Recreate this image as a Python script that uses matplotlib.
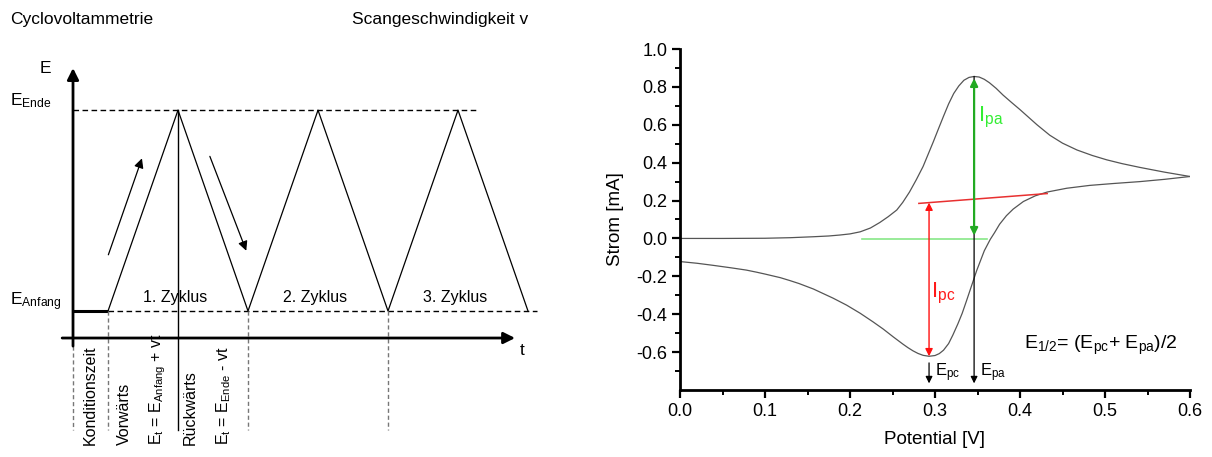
import matplotlib
matplotlib.use("Agg")
import matplotlib.pyplot as plt
import numpy as np

plt.rcParams['font.family'] = ['Liberation Sans', 'DejaVu Sans']
plt.rcParams['mathtext.default'] = 'regular'

# ---------------- Left panel data (schematic potential program) ----------------
E_ANFANG = 1.0
E_ENDE = 8.44
t_cond = [0.0, 1.0]                       # conditioning time
t_vertices = [1, 3, 5, 7, 9, 11, 13]      # triangle vertices
E_vertices = [E_ANFANG, E_ENDE, E_ANFANG, E_ENDE, E_ANFANG, E_ENDE, E_ANFANG]
cycle_labels = ["1. Zyklus", "2. Zyklus", "3. Zyklus"]
phase_labels = ["Konditionszeit", "Vorwärts", r"E$_t$ = E$_{Anfang}$ + vt",
                "Rückwärts", r"E$_t$ = E$_{Ende}$ - vt"]

# ---------------- Right panel data (cyclic voltammogram) ----------------
V_fwd = [0.000, 0.050, 0.100, 0.130, 0.157, 0.175, 0.188, 0.200, 0.212, 0.224,
         0.235, 0.245, 0.255, 0.262, 0.270, 0.278, 0.286, 0.292, 0.298, 0.304,
         0.310, 0.316, 0.322, 0.328, 0.334, 0.340, 0.346, 0.352, 0.358, 0.364,
         0.372, 0.380, 0.390, 0.400, 0.410, 0.420, 0.435, 0.450, 0.467, 0.485,
         0.502, 0.520, 0.541, 0.570, 0.600]
I_fwd = [0.000, 0.000, 0.001, 0.004, 0.009, 0.013, 0.018, 0.024, 0.035, 0.055,
         0.084, 0.115, 0.150, 0.190, 0.245, 0.310, 0.380, 0.445, 0.510, 0.578,
         0.645, 0.710, 0.765, 0.805, 0.835, 0.850, 0.855, 0.852, 0.840, 0.822,
         0.792, 0.757, 0.718, 0.680, 0.640, 0.600, 0.545, 0.503, 0.467, 0.438,
         0.415, 0.395, 0.375, 0.350, 0.327]
V_rev = [0.600, 0.570, 0.541, 0.510, 0.482, 0.455, 0.432, 0.418, 0.404, 0.392,
         0.384, 0.376, 0.370, 0.365, 0.358, 0.349, 0.343, 0.337, 0.332, 0.327,
         0.321, 0.316, 0.310, 0.305, 0.300, 0.293, 0.286, 0.280, 0.274, 0.268,
         0.262, 0.251, 0.239, 0.227, 0.212, 0.196, 0.180, 0.168, 0.157, 0.140,
         0.129, 0.118, 0.100, 0.090, 0.078, 0.060, 0.039, 0.020, 0.000]
I_rev = [0.327, 0.312, 0.300, 0.290, 0.280, 0.265, 0.245, 0.225, 0.195, 0.155,
         0.120, 0.075, 0.030, -0.005, -0.065, -0.170, -0.250, -0.330, -0.395, -0.450,
         -0.510, -0.555, -0.590, -0.608, -0.618, -0.622, -0.617, -0.607, -0.593, -0.576,
         -0.557, -0.520, -0.478, -0.440, -0.395, -0.352, -0.315, -0.290, -0.267, -0.238,
         -0.222, -0.207, -0.188, -0.178, -0.167, -0.155, -0.142, -0.131, -0.122]
baseline_pa = ([0.214, 0.361], [-0.005, -0.005])   # green baseline for I_pa
baseline_pc = ([0.281, 0.432], [0.185, 0.237])     # red baseline for I_pc

fig = plt.figure(figsize=(12.12, 4.57), dpi=100)

# ================= Left schematic =================
axL = fig.add_axes([0, 0, 560 / 1212, 1])
axL.set_xlim(-2.086, 13.914)
axL.set_ylim(-4.407, 12.52)
axL.axis('off')

E_bottom = -3.41
# axes arrows
axL.annotate('', xy=(0, 10.0), xytext=(0, -0.3),
             arrowprops=dict(arrowstyle='-|>', color='black', lw=2, mutation_scale=17,
                             shrinkA=0, shrinkB=0))
axL.annotate('', xy=(12.63, 0), xytext=(-0.31, 0),
             arrowprops=dict(arrowstyle='-|>', color='black', lw=2, mutation_scale=17,
                             shrinkA=0, shrinkB=0))
axL.plot([0, 0], [-0.3, E_bottom], color='#777777', lw=1, ls=(0, (3, 2)))
axL.text(-0.8, 10.0, 'E', fontsize=12.5, ha='center', va='center')
axL.text(12.83, -0.45, 't', fontsize=12.5, ha='center', va='center')
axL.text(-1.8, 8.8, r'E$_{Ende}$', fontsize=12.5, ha='left', va='center')
axL.text(-1.8, 1.33, r'E$_{Anfang}$', fontsize=12.5, ha='left', va='center')

# reference levels
axL.plot([0, 11.57], [E_ENDE, E_ENDE], color='black', lw=1, ls=(0, (4, 2.5)))
axL.plot([t_cond[1], 13.26], [E_ANFANG, E_ANFANG], color='black', lw=1, ls=(0, (4, 2.5)))
axL.plot(t_cond, [E_ANFANG, E_ANFANG], color='black', lw=2.2, solid_capstyle='butt')

# triangle waveform
axL.plot(t_vertices, E_vertices, color='black', lw=0.9)

# vertical marker lines
axL.plot([t_vertices[1], t_vertices[1]], [E_ENDE, E_bottom], color='black', lw=1)
for tv in (t_vertices[0], t_vertices[2], t_vertices[4]):
    axL.plot([tv, tv], [E_ANFANG, E_bottom], color='#777777', lw=1, ls=(0, (3, 2)))

# direction arrows
def ramp_point(t0, E0, t1, E1, f, dt):
    return (t0 + f * (t1 - t0) + dt, E0 + f * (E1 - E0))

p0 = ramp_point(t_vertices[0], E_vertices[0], t_vertices[1], E_vertices[1], 0.28, -0.55)
p1 = ramp_point(t_vertices[0], E_vertices[0], t_vertices[1], E_vertices[1], 0.76, -0.55)
axL.annotate('', xy=p1, xytext=p0,
             arrowprops=dict(arrowstyle='-|>', color='black', lw=0.9, mutation_scale=14,
                             shrinkA=0, shrinkB=0))
q0 = ramp_point(t_vertices[1], E_vertices[1], t_vertices[2], E_vertices[2], 0.23, 0.45)
q1 = ramp_point(t_vertices[1], E_vertices[1], t_vertices[2], E_vertices[2], 0.70, 0.55)
axL.annotate('', xy=q1, xytext=q0,
             arrowprops=dict(arrowstyle='-|>', color='black', lw=0.9, mutation_scale=14,
                             shrinkA=0, shrinkB=0))

for lab, tp in zip(cycle_labels, t_vertices[1::2]):
    axL.text(tp - 0.08, 1.5, lab, fontsize=11.5, ha='center', va='center')

phase_t = [0.49, 1.46, 2.43, 3.34, 4.31]
for lab, tp in zip(phase_labels, phase_t):
    axL.text(tp, -3.98, lab, fontsize=11.5, rotation=90, ha='center', va='bottom')

axL.text(-1.8, 11.78, 'Cyclovoltammetrie', fontsize=12.5, ha='left', va='center')
axL.text(7.97, 11.78, 'Scangeschwindigkeit v', fontsize=12.5, ha='left', va='center')

# ================= Right CV plot =================
ax = fig.add_axes([680 / 1212, 1 - 390 / 457, 510 / 1212, 341 / 457])
ax.plot(V_fwd, I_fwd, color='#555555', lw=0.9)
ax.plot(V_rev, I_rev, color='#555555', lw=0.9)
ax.set_xlim(0, 0.6)
ax.set_ylim(-0.8, 1.0)
ax.set_xticks(np.arange(0, 0.61, 0.1))
ax.set_xticks(np.arange(0.05, 0.6, 0.1), minor=True)
ax.set_yticks(np.arange(-0.6, 1.01, 0.2))
ax.set_yticks(np.arange(-0.7, 1.0, 0.2), minor=True)
ax.set_xticklabels([f'{v:.1f}' for v in np.arange(0, 0.61, 0.1)])
ax.set_yticklabels([f'{v:.1f}' for v in np.arange(-0.6, 1.01, 0.2)])
for s in ('top', 'right'):
    ax.spines[s].set_visible(False)
for s in ('left', 'bottom'):
    ax.spines[s].set_linewidth(2)
ax.tick_params(which='major', direction='out', length=6, width=1.6, labelsize=13, pad=3)
ax.tick_params(which='minor', direction='out', length=3.5, width=1.4)
ax.set_xlabel('Potential [V]', fontsize=13.5, labelpad=8)
ax.set_ylabel('Strom [mA]', fontsize=13.5, labelpad=9)

i_pa = int(np.argmax(I_fwd))
E_pa, I_pa = V_fwd[i_pa], I_fwd[i_pa]
i_pc = int(np.argmin(I_rev))
E_pc, I_pc = V_rev[i_pc], I_rev[i_pc]

# baselines
ax.plot(*baseline_pa, color='#88e888', lw=1.2)
ax.plot(*baseline_pc, color='#e83030', lw=1.1)

# E_pa black arrow
ax.annotate('', xy=(E_pa, -0.765), xytext=(E_pa, I_pa),
            arrowprops=dict(arrowstyle='-|>', color='black', lw=0.9, mutation_scale=10,
                            shrinkA=0, shrinkB=0))
# E_pc black arrow
ax.annotate('', xy=(E_pc, -0.765), xytext=(E_pc, I_pc - 0.035),
            arrowprops=dict(arrowstyle='-|>', color='black', lw=0.9, mutation_scale=10,
                            shrinkA=0, shrinkB=0))
# I_pa green double arrow
ax.annotate('', xy=(E_pa, I_pa - 0.01), xytext=(E_pa, baseline_pa[1][0] + 0.02),
            arrowprops=dict(arrowstyle='<|-|>', color='#22aa22', lw=1.6, mutation_scale=11,
                            shrinkA=0, shrinkB=0))
# I_pc red double arrow
pc_top = baseline_pc[1][0] + (baseline_pc[1][1] - baseline_pc[1][0]) * \
    (E_pc - baseline_pc[0][0]) / (baseline_pc[0][1] - baseline_pc[0][0])
ax.annotate('', xy=(E_pc, pc_top), xytext=(E_pc, I_pc),
            arrowprops=dict(arrowstyle='<|-|>', color='#ff1010', lw=1.0, mutation_scale=11,
                            shrinkA=0, shrinkB=0))

ax.text(E_pa + 0.004, 0.64, r'I$_{pa}$', color='#33ee33', fontsize=16, ha='left', va='center')
ax.text(E_pc + 0.002, -0.29, r'I$_{pc}$', color='#ff1a1a', fontsize=16, ha='left', va='center')
ax.text(E_pc + 0.007, -0.71, r'E$_{pc}$', fontsize=12, ha='left', va='center')
ax.text(E_pa + 0.007, -0.71, r'E$_{pa}$', fontsize=12, ha='left', va='center')
ax.text(0.405, -0.565, r'E$_{1/2}$= (E$_{pc}$+ E$_{pa}$)/2', fontsize=14, ha='left', va='center')

fig.savefig('out.png', dpi=100)
